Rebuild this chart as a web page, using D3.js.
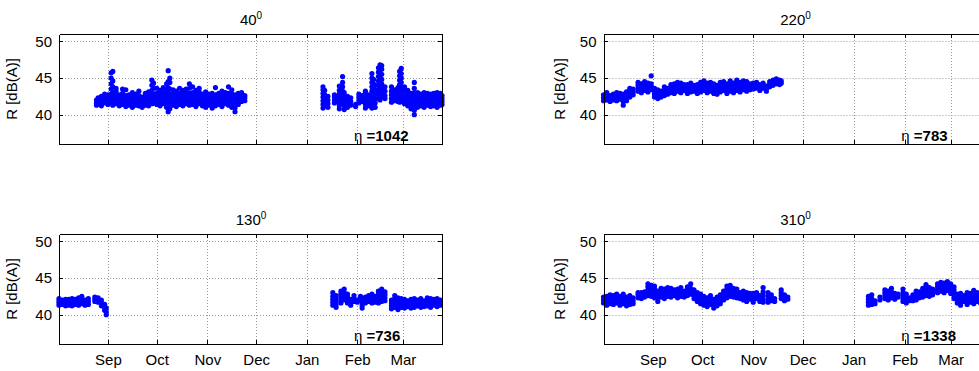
<!DOCTYPE html>
<html>
<head>
<meta charset="utf-8">
<script src="https://d3js.org/d3.v7.min.js"></script>
<style>
  body { margin: 0; background: #fff; }
  svg { display: block; font-family: "Liberation Sans", Arial, sans-serif; }
</style>
</head>
<body>
<svg id="fig" width="979" height="371"></svg>
<script>
// each row: measurement day (MM-DD, Aug..Dec = 2010, Jan..Mar = 2011), then the values R [dB(A)] of that day
const r40 = [
  ["08-25",41.3,41.6,42.0],["08-26",41.5,41.9,42.3],["08-28",41.2,41.7,42.1,42.5],
  ["08-30",41.6,42.0,42.4,42.8],["09-01",41.4,41.8,42.3,42.7],
  ["09-03",41.7,42.2,42.8,43.5,44.2,45.0,45.7],["09-04",41.3,41.8,42.4,43.0,43.8,44.6,45.9],
  ["09-06",41.5,42.0,42.6,43.2,43.6],["09-08",41.2,41.7,42.2,42.7],["09-10",41.4,41.9,42.4,42.9,43.5],
  ["09-12",41.1,41.6,42.1,42.6,43.4],["09-14",41.3,41.8,42.2,42.7],["09-16",41.0,41.5,42.0,42.5,43.0],
  ["09-18",41.3,41.8,42.3,42.8],["09-20",41.2,41.6,42.1,42.6,43.2],["09-22",41.0,41.5,42.0,42.4],
  ["09-24",41.3,41.8,42.3,42.9],["09-26",41.2,41.7,42.1,42.6,43.1],["09-28",41.5,42.0,42.6,43.3,44.0,44.7],
  ["09-29",41.6,42.2,42.8,43.6,44.3],["10-01",41.4,41.9,42.4,42.9,43.6],["10-03",41.2,41.7,42.2,42.7,43.3],
  ["10-05",41.5,42.0,42.5,43.0,43.7],["10-07",41.0,41.6,42.2,42.8,43.4,44.2],
  ["10-08",40.4,41.0,41.6,42.3,43.0,43.7,44.5,46.0],["10-09",40.8,41.5,42.1,42.8,43.5,44.4,45.0],
  ["10-11",41.3,41.8,42.3,42.8,43.4],["10-13",41.1,41.6,42.1,42.6,43.2],["10-15",41.4,41.9,42.4,42.9,43.6],
  ["10-17",41.2,41.7,42.2,42.7,43.3],["10-19",41.5,42.0,42.5,43.0,43.5],["10-21",41.3,41.8,42.3,42.9,43.6,44.2],
  ["10-23",41.4,41.9,42.4,43.0,43.8],["10-25",41.1,41.6,42.1,42.7,43.3],["10-27",41.5,42.0,42.5,43.1,43.6],
  ["10-29",41.2,41.7,42.2,42.8],["10-31",41.0,41.5,42.0,42.6,43.1],["11-02",41.3,41.8,42.3,42.8],
  ["11-04",40.9,41.4,41.9,42.4,42.9],["11-06",41.2,41.7,42.2,42.7,43.7],["11-08",41.4,41.9,42.4,42.9],
  ["11-10",41.1,41.6,42.1,42.6,43.2],["11-12",41.5,42.0,42.5,43.0],["11-14",41.3,41.8,42.3,42.9,43.8],
  ["11-16",41.0,41.6,42.2,42.8,43.4],["11-18",40.4,40.9,41.5,42.1,42.7],["11-20",41.4,41.9,42.4,42.9],
  ["11-22",41.8,42.2,42.6,43.0],["11-24",41.9,42.3,42.6],
  ["01-11",40.9,41.4,41.9,42.4,42.9,43.4,43.8],["01-12",41.2,41.7,42.2,42.7,43.3],["01-14",41.0,41.5,42.0,42.5],
  ["01-18",41.6,42.0,42.4,42.7],["01-19",41.8,42.2],["01-21",40.8,41.3,41.8,42.3,42.8,43.3,43.9],
  ["01-23",41.5,42.0,42.6,43.2,43.8,44.4,45.2],["01-24",40.7,41.2,41.8,42.4,43.0],["01-26",41.0,41.5,42.0,42.5],
  ["01-28",41.3,41.8,42.3],["01-31",41.1,41.4],["02-02",41.6,42.0,42.4,42.8],["02-04",41.8,42.2,42.6],
  ["02-06",40.9,41.4,41.9,42.4,42.9,43.2],["02-08",41.2,41.7,42.2,42.7],
  ["02-10",40.9,41.4,42.0,42.6,43.2,43.8,44.4,45.0,45.6],["02-11",41.2,41.8,42.4,43.0,43.6,44.2,44.8],
  ["02-12",41.0,41.6,42.2,42.8,43.4,44.0],["02-14",42.2,42.8,43.4,44.0,44.6,45.2,45.8,46.4],
  ["02-15",42.0,42.6,43.2,43.8,44.4,45.0,45.6,46.2,46.8],["02-16",42.4,43.0,43.6,44.2,44.8,45.5,46.2,46.7],
  ["02-18",42.2,42.6,43.2,43.8],["02-22",41.7,42.2,42.7,43.2,43.8],["02-24",41.9,42.4,42.9,43.4],
  ["02-26",41.8,42.3,42.8,43.3,43.7],["02-27",41.7,42.3,42.9,43.5,44.1,44.7,45.3,45.9],
  ["02-28",42.0,42.6,43.2,43.8,44.4,45.0,45.6,46.3],["03-02",41.5,42.0,42.6,43.2,43.8],
  ["03-04",41.2,41.7,42.2,42.7,43.3],["03-06",40.8,41.3,41.8,42.3,42.9],
  ["03-08",40.0,40.6,41.2,41.8,42.4,43.0,43.6,44.4],["03-10",41.0,41.5,42.0,42.5,43.0],
  ["03-12",41.2,41.6,42.0,42.4,42.8],["03-14",41.0,41.5,42.0,42.5,43.0],["03-16",41.3,41.7,42.1,42.5,42.9],
  ["03-18",41.1,41.5,41.9,42.4,42.8],["03-20",41.2,41.6,42.0,42.4,42.9],["03-22",41.0,41.5,42.0,42.5,43.0],
  ["03-24",41.3,41.7,42.1,42.5,42.9],["03-25",41.4,41.8,42.2,42.6]
];

const r220 = [
  ["08-02",41.9,42.3,42.7],["08-04",42.0,42.4,42.8,43.0],["08-06",41.8,42.2,42.6],["08-08",42.0,42.4,42.8],
  ["08-10",41.9,42.3,42.7,43.0],["08-12",42.1,42.5,42.9],["08-14",41.3,41.8,42.3,42.8],
  ["08-16",41.9,42.3,42.7,43.1],["08-18",42.4,42.8,43.2,43.6],["08-20",42.7,43.1,43.5],
  ["08-23",43.2,43.6,44.0,44.4],["08-25",43.0,43.4,43.8,44.2],["08-27",43.3,43.7,44.1,44.5],
  ["08-29",43.1,43.5,43.9,44.3],["08-31",43.4,43.8,44.2,45.3],["09-02",42.4,42.8,43.2,43.6],
  ["09-04",42.2,42.6,43.0,43.4],["09-06",42.4,42.8,43.2],["09-08",42.6,43.0,43.4,43.8],
  ["09-10",42.8,43.2,43.6],["09-12",43.0,43.4,43.8,44.1],["09-14",42.9,43.3,43.7,44.2],
  ["09-16",43.2,43.6,44.0,44.4],["09-18",43.0,43.4,43.8,44.3],["09-20",43.3,43.7,44.1],
  ["09-22",42.9,43.3,43.7,44.1],["09-24",43.1,43.5,43.9,44.3],["09-26",43.2,43.6,44.0],
  ["09-28",42.9,43.3,43.7,44.1],["09-30",43.1,43.5,43.9,44.4],["10-02",43.3,43.7,44.1,44.6],
  ["10-04",43.0,43.4,43.8,44.3],["10-06",43.2,43.6,44.0,44.4],["10-08",42.9,43.3,43.7,44.2],
  ["10-10",42.8,43.2,43.6,44.0],["10-12",43.1,43.5,43.9,44.4],["10-14",43.3,43.7,44.1,44.5],
  ["10-16",42.9,43.3,43.7,44.2],["10-18",43.2,43.6,44.0,44.6],["10-20",43.0,43.4,43.8,44.3],
  ["10-22",43.3,43.7,44.1,44.7],["10-24",43.1,43.5,43.9,44.4],["10-26",43.4,43.8,44.2,44.6],
  ["10-28",43.2,43.6,44.0,44.5],["10-30",43.4,43.8,44.2],["11-01",43.5,43.9,44.3],["11-03",43.6,44.0,44.4],
  ["11-05",43.3,43.7,44.1],["11-07",43.6,44.0,44.3],["11-09",43.2,43.6,43.9],["11-11",43.8,44.2,44.5],
  ["11-13",44.0,44.3,44.7],["11-15",44.2,44.5,44.9],["11-17",44.1,44.4,44.7],["11-18",44.3,44.6]
];

const r130 = [
  ["08-02",41.3,41.6,41.9,42.2],["08-04",41.4,41.7,42.0],["08-06",41.2,41.5,41.8,42.1],["08-08",41.3,41.7,42.1],
  ["08-10",41.2,41.5,41.9,42.2],["08-12",41.4,41.8,42.1],["08-14",41.3,41.6,42.0,42.3],
  ["08-16",41.5,41.8,42.1,42.5],["08-18",41.3,41.7,42.0],["08-20",41.4,41.8,42.2],
  ["08-24",41.8,42.1,42.4],["08-26",41.7,42.0,42.3],["08-28",41.2,41.6,42.0],["08-30",40.6,41.0,41.4],
  ["08-31",40.0,40.4,40.9],
  ["01-17",41.3,41.7,42.1,42.5,43.0],["01-19",41.0,41.4,41.8,42.2,42.6],["01-22",41.6,42.0,42.4,42.8,43.2],
  ["01-24",42.0,42.5,43.0,43.5],["01-26",41.6,42.0,42.4,42.8],["01-28",41.3,41.7,42.1],["01-30",41.8,42.2,42.6],
  ["02-01",41.7,42.0],["02-03",41.9,42.2,42.5],["02-04",40.9,41.3,41.8],["02-06",41.6,42.0,42.4],
  ["02-08",41.8,42.2,42.6],["02-10",41.6,42.0,42.4,42.8],["02-12",41.7,42.1,42.5],
  ["02-14",41.6,42.0,42.4,42.8,43.2],["02-16",41.8,42.2,42.6,43.0,43.5],["02-18",41.9,42.3,42.7,43.1],
  ["02-22",40.8,41.2,41.6,42.0],["02-24",41.0,41.4,41.8,42.2,42.6],["02-26",40.7,41.1,41.5,41.9,42.3],
  ["02-28",41.0,41.4,41.8,42.2],["03-02",40.9,41.3,41.7,42.1],["03-04",41.1,41.5,41.9],
  ["03-06",40.9,41.3,41.7,42.1],["03-08",41.0,41.4,41.8,42.2],["03-10",41.2,41.6,42.0],
  ["03-12",41.0,41.4,41.8,42.2],["03-14",41.1,41.5,41.9],["03-16",41.2,41.6,42.0,42.3],
  ["03-18",41.0,41.4,41.8,42.2],["03-20",41.3,41.7,42.1],["03-22",41.1,41.5,41.9,42.2],["03-24",41.3,41.7,42.0]
];

const r310 = [
  ["08-02",41.6,42.0,42.4],["08-04",41.3,41.7,42.1,42.5],["08-06",41.5,41.9,42.3,42.7],
  ["08-08",41.4,41.8,42.2,42.6],["08-10",41.6,42.0,42.4,42.8],["08-12",41.3,41.7,42.1,42.5],
  ["08-14",41.5,41.9,42.3,42.8],["08-16",41.2,41.6,42.0,42.4],["08-18",41.4,41.8,42.2,42.6],
  ["08-20",41.5,41.9,42.3],["08-23",42.3,42.7,43.0],["08-25",42.2,42.6,43.0],["08-27",42.4,42.8,43.1],
  ["08-29",42.6,43.0,43.4,43.8,44.2],["08-31",42.5,42.9,43.3,43.7,44.0],["09-02",42.3,42.7,43.1,43.5,43.9],
  ["09-04",41.8,42.3,42.8,43.2],["09-06",42.4,42.8,43.2,43.6],["09-08",42.2,42.6,43.0,43.5],
  ["09-10",42.5,42.9,43.3,43.7],["09-12",42.4,42.8,43.2,43.6],["09-14",42.6,43.0,43.4],
  ["09-16",42.3,42.7,43.1,43.5],["09-18",42.5,42.9,43.3,43.7],["09-20",42.4,42.8,43.2],
  ["09-22",42.6,43.0,43.4,43.8],["09-24",42.8,43.2,43.6,44.2],["09-26",42.2,42.6,43.0,43.4],
  ["09-28",41.8,42.2,42.6,43.0],["09-30",41.5,41.9,42.3,42.8],["10-02",41.3,41.7,42.1,42.5],
  ["10-04",41.1,41.5,41.9,42.3],["10-06",41.4,41.8,42.2,42.6],["10-08",40.9,41.3,41.7,42.1],
  ["10-10",41.2,41.6,42.0,42.4],["10-12",41.5,41.9,42.3,42.7],["10-14",42.0,42.4,42.8,43.2],
  ["10-16",42.3,42.7,43.1,43.5,43.9],["10-18",42.5,42.9,43.3,43.7,44.0],["10-20",42.4,42.8,43.2,43.6],
  ["10-22",42.3,42.7,43.1,43.5],["10-24",42.2,42.6,43.0],["10-26",42.0,42.4,42.8,43.2],
  ["10-28",41.8,42.2,42.6,43.0],["10-30",42.1,42.5,42.9],["11-01",41.7,42.1,42.5,42.9],
  ["11-03",42.2,42.6,43.0],["11-05",41.8,42.2,42.6],["11-07",41.7,42.1,42.6,43.1,43.7],
  ["11-10",41.7,42.1,42.5,43.0],["11-12",41.9,42.3,42.7],["11-14",41.8,42.2],
  ["11-18",42.2,42.6,43.0,43.4],["11-20",41.9,42.3,42.7],["11-22",42.1,42.4],
  ["01-10",41.3,41.7,42.1,42.5],["01-12",41.4,41.8,42.2,42.7],["01-14",41.5,41.9],["01-17",42.0,42.4],
  ["01-20",42.2,42.6,43.0,43.4],["01-22",42.0,42.4,42.8,43.2],["01-24",42.3,42.7,43.1,43.6],
  ["01-26",42.1,42.5,42.9],["01-28",42.4,42.8],["01-31",41.8,42.2,42.6,43.0,43.5],
  ["02-02",41.6,42.0,42.4,42.8],["02-04",41.9,42.3],["02-06",41.9,42.3,42.7],["02-08",42.0,42.4,42.8,43.2],
  ["02-10",42.3,42.7,43.1],["02-12",42.4,42.8,43.2,43.6],["02-14",42.6,43.0,43.4,43.8,44.1],
  ["02-16",42.5,42.9,43.3,43.7],["02-18",42.7,43.1,43.5],["02-21",43.0,43.4,43.8,44.2],
  ["02-23",43.2,43.6,44.0,44.4],["02-25",43.0,43.4,43.8,44.3],["02-27",43.3,43.7,44.1,44.5],
  ["03-01",42.9,43.3,43.7,44.2],["03-03",42.2,42.6,43.0,43.4,43.8],["03-05",41.6,42.0,42.4,42.8],
  ["03-07",41.3,41.7,42.1,42.5,42.9],["03-09",41.8,42.2,42.6],["03-11",41.4,41.8,42.2,42.6,43.0],
  ["03-13",41.7,42.1,42.5,42.9],["03-15",41.5,41.9,42.3,42.7,43.3],["03-17",41.8,42.2,42.6,43.0],
  ["03-19",41.6,42.0,42.4],["03-21",41.8,42.2,42.6],["03-23",41.7,42.1,42.5],["03-25",41.9,42.3]
];

const titles = ["40", "220", "130", "310"];
const counts = [1042, 783, 736, 1338];
const monthTicks = ["09-01","10-01","11-01","12-01","01-01","02-01","03-01"];
const yTicks = [40, 45, 50];
const yDomain = [36, 51];
const xDomain = ["08-02", "03-25"];
const noteDate = "01-30";
const noteValue = 36.4;

function toDate(md) {
  const [m, d] = md.split("-").map(Number);
  return new Date(m >= 8 ? 2010 : 2011, m - 1, d);
}

const svg = d3.select("#fig");
const font = "Liberation Sans, Arial, sans-serif";
const fs = 15;

const panels = [
  { data: r40,  i: 0, left: 59,    top: 34,  w: 383,   labX: 17,  xLabels: false },
  { data: r220, i: 1, left: 603.5, top: 34,  w: 386.7, labX: 565, xLabels: false },
  { data: r130, i: 2, left: 59,    top: 234, w: 383,   labX: 17,  xLabels: true },
  { data: r310, i: 3, left: 603.5, top: 234, w: 386.7, labX: 565, xLabels: true }
];
const h = 110;

panels.forEach(p => {
  const x = d3.scaleTime().domain(xDomain.map(toDate)).range([p.left, p.left + p.w]);
  const y = d3.scaleLinear().domain(yDomain).range([p.top + h, p.top]);
  const months = monthTicks.map(toDate);
  const g = svg.append("g");

  // dotted grid
  g.selectAll(".vgrid").data(months).enter().append("line")
    .attr("x1", d => Math.round(x(d)) + 0.5).attr("x2", d => Math.round(x(d)) + 0.5)
    .attr("y1", p.top).attr("y2", p.top + h)
    .attr("stroke", "#9a9a9a").attr("stroke-dasharray", "1,2");
  g.selectAll(".hgrid").data(yTicks).enter().append("line")
    .attr("x1", p.left).attr("x2", p.left + p.w)
    .attr("y1", d => Math.round(y(d)) + 0.5).attr("y2", d => Math.round(y(d)) + 0.5)
    .attr("stroke", "#9a9a9a").attr("stroke-dasharray", "1,2");

  // points
  const pts = p.data.flatMap(r => r.slice(1).map(v => ({ date: toDate(r[0]), v: v })));
  g.selectAll("circle").data(pts).enter().append("circle")
    .attr("cx", d => x(d.date)).attr("cy", d => y(d.v))
    .attr("r", 2.6).attr("fill", "#0000ff");

  // axes, ticks pointing inwards
  const left = g.append("g").attr("transform", `translate(${p.left},0)`)
    .call(d3.axisLeft(y).tickValues(yTicks).tickSizeInner(-4).tickSizeOuter(0).tickPadding(7));
  g.append("g").attr("transform", `translate(${p.left + p.w},0)`)
    .call(d3.axisRight(y).tickValues(yTicks).tickSizeInner(-4).tickSizeOuter(0).tickFormat(""));
  const bottom = g.append("g").attr("transform", `translate(0,${p.top + h})`)
    .call(d3.axisBottom(x).tickValues(months).tickSizeInner(-4).tickSizeOuter(0).tickPadding(10)
      .tickFormat(p.xLabels ? d3.timeFormat("%b") : ""));
  g.append("g").attr("transform", `translate(0,${p.top})`)
    .call(d3.axisTop(x).tickValues(months).tickSizeInner(-4).tickSizeOuter(0).tickFormat(""));
  g.selectAll(".domain, .tick line").attr("stroke", "#000").attr("shape-rendering", "crispEdges");
  [left, bottom].forEach(a => a.attr("font-size", fs).attr("font-family", font).selectAll("text").attr("fill", "#000"));

  // title with superscript 0
  const t = g.append("text").attr("x", p.left + 383 / 2 + 0.5).attr("y", p.top - 9)
    .attr("text-anchor", "middle").attr("font-size", fs).text(titles[p.i]);
  t.append("tspan").attr("font-size", 10).attr("dy", -6).text("0");

  // y label
  g.append("text").attr("transform", `translate(${p.labX},${p.top + h / 2}) rotate(-90)`)
    .attr("text-anchor", "middle").attr("font-size", fs).text("R [dB(A)]");

  // count annotation
  const n = g.append("text").attr("x", x(toDate(noteDate))).attr("y", y(noteValue))
    .attr("font-size", 15);
  n.append("tspan").text("η");
  n.append("tspan").attr("font-weight", "bold").text(" =" + counts[p.i]);
});
</script>
</body>
</html>
